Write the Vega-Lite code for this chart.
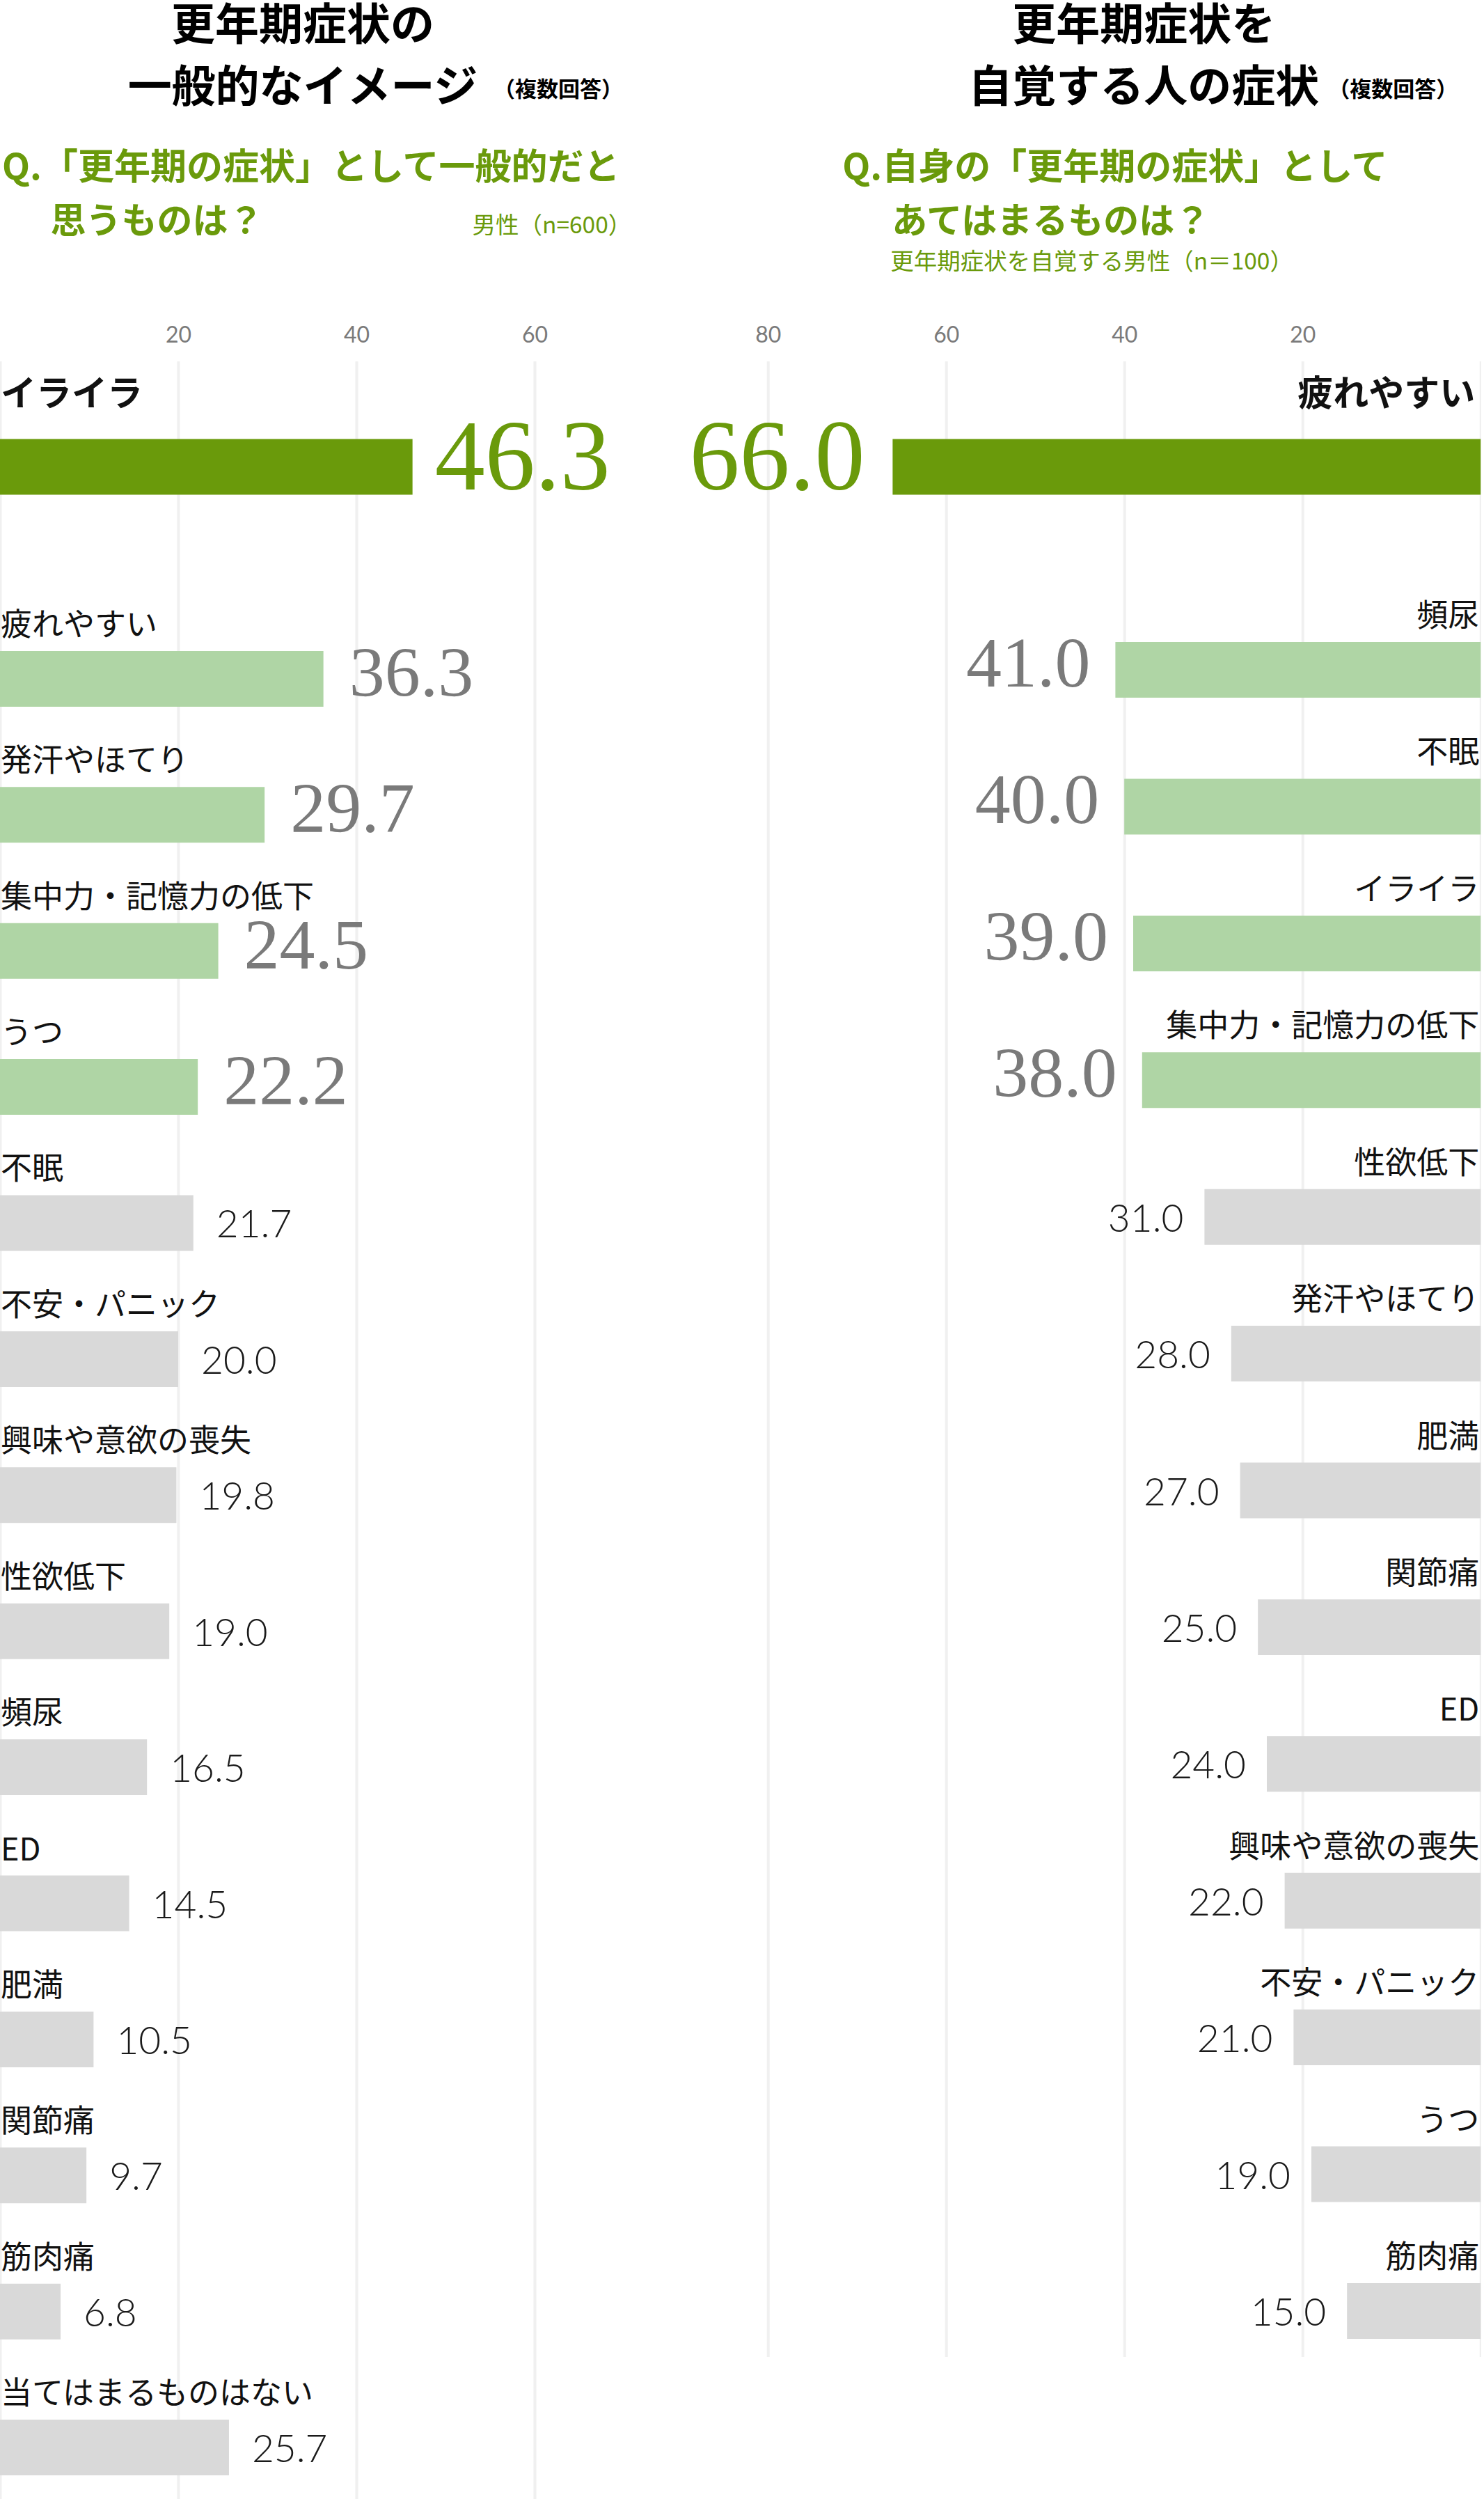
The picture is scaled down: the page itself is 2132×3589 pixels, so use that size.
{
  "$schema": "https://vega.github.io/schema/vega-lite/v6.json",
  "background": "white",
  "padding": {"left": 0, "top": 6.5, "right": 0, "bottom": 0},
  "datasets": {
    "general": [
      {"symptom": "イライラ", "pct": 46.3, "tier": "top"},
      {"symptom": "疲れやすい", "pct": 36.3, "tier": "high"},
      {"symptom": "発汗やほてり", "pct": 29.7, "tier": "high"},
      {"symptom": "集中力・記憶力の低下", "pct": 24.5, "tier": "high"},
      {"symptom": "うつ", "pct": 22.2, "tier": "high"},
      {"symptom": "不眠", "pct": 21.7, "tier": "other"},
      {"symptom": "不安・パニック", "pct": 20.0, "tier": "other"},
      {"symptom": "興味や意欲の喪失", "pct": 19.8, "tier": "other"},
      {"symptom": "性欲低下", "pct": 19.0, "tier": "other"},
      {"symptom": "頻尿", "pct": 16.5, "tier": "other"},
      {"symptom": "ED", "pct": 14.5, "tier": "other"},
      {"symptom": "肥満", "pct": 10.5, "tier": "other"},
      {"symptom": "関節痛", "pct": 9.7, "tier": "other"},
      {"symptom": "筋肉痛", "pct": 6.8, "tier": "other"},
      {"symptom": "当てはまるものはない", "pct": 25.7, "tier": "other"}
    ],
    "self": [
      {"symptom": "疲れやすい", "pct": 66.0, "tier": "top"},
      {"symptom": "頻尿", "pct": 41.0, "tier": "high"},
      {"symptom": "不眠", "pct": 40.0, "tier": "high"},
      {"symptom": "イライラ", "pct": 39.0, "tier": "high"},
      {"symptom": "集中力・記憶力の低下", "pct": 38.0, "tier": "high"},
      {"symptom": "性欲低下", "pct": 31.0, "tier": "other"},
      {"symptom": "発汗やほてり", "pct": 28.0, "tier": "other"},
      {"symptom": "肥満", "pct": 27.0, "tier": "other"},
      {"symptom": "関節痛", "pct": 25.0, "tier": "other"},
      {"symptom": "ED", "pct": 24.0, "tier": "other"},
      {"symptom": "興味や意欲の喪失", "pct": 22.0, "tier": "other"},
      {"symptom": "不安・パニック", "pct": 21.0, "tier": "other"},
      {"symptom": "うつ", "pct": 19.0, "tier": "other"},
      {"symptom": "筋肉痛", "pct": 15.0, "tier": "other"}
    ]
  },
  "spacing": -33.8,
  "hconcat": [
    {
      "title": {"text": ["更年期症状の", "一般的なイメージ"], "orient": "top", "anchor": "start", "frame": "group", "align": "center", "baseline": "top", "dx": 435, "offset": -45.2, "font": "Noto Sans CJK JP", "fontSize": 63, "fontWeight": "bold", "color": "#000000", "lineHeight": 88.5},
      "spacing": 0,
      "vconcat": [
        {
          "title": {"text": "（複数回答）", "orient": "top", "anchor": "start", "frame": "group", "align": "left", "baseline": "top", "dx": 709, "offset": 69.9, "font": "Noto Sans CJK JP", "fontSize": 31, "fontWeight": "bold", "color": "#000000"},
          "spacing": 0,
          "vconcat": [
            {
              "title": {"text": "Q.「更年期の症状」として一般的だと", "orient": "top", "anchor": "start", "frame": "group", "align": "left", "baseline": "top", "dx": 3, "offset": 25.5, "font": "Noto Sans CJK JP", "fontSize": 52, "fontWeight": "bold", "color": "#6a9a0b"},
              "spacing": 0,
              "vconcat": [
                {
                  "title": {"text": "思うものは？", "orient": "top", "anchor": "start", "frame": "group", "align": "left", "baseline": "top", "dx": 72.5, "offset": -38.5, "font": "Noto Sans CJK JP", "fontSize": 51, "fontWeight": "bold", "color": "#6a9a0b"},
                  "spacing": 0,
                  "vconcat": [
                    {
                      "title": {"text": "男性（n=600）", "orient": "top", "anchor": "start", "frame": "group", "align": "left", "baseline": "top", "dx": 678.5, "offset": 123.4, "font": "Noto Sans CJK JP", "fontSize": 33.5, "fontWeight": "normal", "color": "#6a9a0b"},
                      "bounds": "flush",
                      "spacing": 0,
                      "vconcat": [
                        {
                          "width": 1024,
                          "height": 382,
                          "data": {"name": "general"},
                          "transform": [{"filter": "datum.tier === 'top'"}],
                          "encoding": {
                            "y": {"field": "symptom", "type": "nominal", "axis": null, "scale": {"domain": ["イライラ"], "paddingInner": 0, "paddingOuter": 1, "align": 0.3469, "round": false}}
                          },
                          "layer": [
                            {"mark": {"type": "bar", "height": 80, "color": "#6a9a0b"},
                             "encoding": {"x": {"field": "pct", "type": "quantitative", "scale": {"domain": [0, 80], "nice": false}, "axis": {"orient": "top", "values": [0, 20, 40, 60], "labelExpr": "datum.value === 0 ? '' : datum.label", "title": null, "grid": true}}}},
                            {"mark": {"type": "text", "align": "left", "baseline": "alphabetic", "dx": 1, "dy": -88, "font": "Noto Sans CJK JP", "fontSize": 51, "fontWeight": "bold", "color": "#111111"},
                             "encoding": {"x": {"datum": 0, "type": "quantitative", "axis": {"orient": "top", "values": [0, 20, 40, 60], "labelExpr": "datum.value === 0 ? '' : datum.label", "title": null, "grid": true}}, "text": {"field": "symptom", "type": "nominal"}}},
                            {"mark": {"type": "text", "align": "left", "baseline": "alphabetic", "dx": 32, "dy": 32, "font": "Liberation Serif", "fontSize": 144, "color": "#6a9a0b"},
                             "encoding": {"x": {"field": "pct", "type": "quantitative", "axis": {"orient": "top", "values": [0, 20, 40, 60], "labelExpr": "datum.value === 0 ? '' : datum.label", "title": null, "grid": true}}, "text": {"field": "pct", "type": "quantitative", "format": ".1f"}}}
                          ]
                        },
                        {
                          "width": 1024,
                          "height": 2689,
                          "data": {"name": "general"},
                          "transform": [{"filter": "datum.tier !== 'top'"}],
                          "encoding": {
                            "y": {"field": "symptom", "type": "nominal", "axis": null, "scale": {"domain": ["疲れやすい", "発汗やほてり", "集中力・記憶力の低下", "うつ", "不眠", "不安・パニック", "興味や意欲の喪失", "性欲低下", "頻尿", "ED", "肥満", "関節痛", "筋肉痛", "当てはまるものはない"], "paddingInner": 0.2385, "paddingOuter": 0, "align": 0.5, "round": false}}
                          },
                          "layer": [
                            {"mark": {"type": "bar", "height": 80},
                             "encoding": {"x": {"field": "pct", "type": "quantitative", "scale": {"domain": [0, 80], "nice": false}, "axis": {"orient": "top", "values": [0, 20, 40, 60], "labels": false, "title": null, "grid": true}},
                                          "color": {"field": "tier", "type": "nominal", "scale": {"domain": ["high", "other"], "range": ["#afd5a5", "#d9d9d9"]}, "legend": null}}},
                            {"mark": {"type": "text", "align": "left", "baseline": "alphabetic", "dx": 1, "dy": -62, "font": "Noto Sans CJK JP", "fontSize": 45, "color": "#111111"},
                             "encoding": {"x": {"datum": 0, "type": "quantitative", "axis": {"orient": "top", "values": [0, 20, 40, 60], "labels": false, "title": null, "grid": true}}, "text": {"field": "symptom", "type": "nominal"}}},
                            {"transform": [{"filter": "datum.tier === 'high'"}],
                             "mark": {"type": "text", "align": "left", "baseline": "alphabetic", "dx": 37, "dy": 25, "font": "Liberation Serif", "fontSize": 102, "color": "#7a7a7a"},
                             "encoding": {"x": {"field": "pct", "type": "quantitative", "axis": {"orient": "top", "values": [0, 20, 40, 60], "labels": false, "title": null, "grid": true}}, "text": {"field": "pct", "type": "quantitative", "format": ".1f"}}},
                            {"transform": [{"filter": "datum.tier === 'other'"}],
                             "mark": {"type": "text", "align": "left", "baseline": "alphabetic", "dx": 33, "dy": 21, "font": "Lato", "fontWeight": 300, "fontSize": 55, "color": "#1a1a1a"},
                             "encoding": {"x": {"field": "pct", "type": "quantitative", "axis": {"orient": "top", "values": [0, 20, 40, 60], "labels": false, "title": null, "grid": true}}, "text": {"field": "pct", "type": "quantitative", "format": ".1f"}}}
                          ]
                        }
                      ]
                    }
                  ]
                }
              ]
            }
          ]
        }
      ]
    },
    {
      "title": {"text": ["更年期症状を", "自覚する人の症状"], "orient": "top", "anchor": "start", "frame": "group", "align": "center", "baseline": "top", "dx": 540, "offset": -45.2, "font": "Noto Sans CJK JP", "fontSize": 63, "fontWeight": "bold", "color": "#000000", "lineHeight": 88.5},
      "spacing": 0,
      "vconcat": [
        {
          "title": {"text": "（複数回答）", "orient": "top", "anchor": "start", "frame": "group", "align": "left", "baseline": "top", "dx": 805, "offset": 69.9, "font": "Noto Sans CJK JP", "fontSize": 31, "fontWeight": "bold", "color": "#000000"},
          "spacing": 0,
          "vconcat": [
            {
              "title": {"text": "Q.自身の「更年期の症状」として", "orient": "top", "anchor": "start", "frame": "group", "align": "left", "baseline": "top", "dx": 107, "offset": 25.5, "font": "Noto Sans CJK JP", "fontSize": 52, "fontWeight": "bold", "color": "#6a9a0b"},
              "spacing": 0,
              "vconcat": [
                {
                  "title": {"text": "あてはまるものは？", "orient": "top", "anchor": "start", "frame": "group", "align": "left", "baseline": "top", "dx": 178, "offset": 14.0, "font": "Noto Sans CJK JP", "fontSize": 51, "fontWeight": "bold", "color": "#6a9a0b"},
                  "spacing": 0,
                  "vconcat": [
                    {
                      "title": {"text": "更年期症状を自覚する男性（n＝100）", "orient": "top", "anchor": "start", "frame": "group", "align": "left", "baseline": "top", "dx": 176, "offset": 70.9, "font": "Noto Sans CJK JP", "fontSize": 33.5, "fontWeight": "normal", "color": "#6a9a0b"},
                      "bounds": "flush",
                      "spacing": 0,
                      "vconcat": [
                        {
                          "width": 1024,
                          "height": 378,
                          "data": {"name": "self"},
                          "transform": [{"filter": "datum.tier === 'top'"}],
                          "encoding": {
                            "y": {"field": "symptom", "type": "nominal", "axis": null, "scale": {"domain": ["疲れやすい"], "paddingInner": 0, "paddingOuter": 1, "align": 0.3532, "round": false}}
                          },
                          "layer": [
                            {"mark": {"type": "bar", "height": 80, "color": "#6a9a0b"},
                             "encoding": {"x": {"field": "pct", "type": "quantitative", "scale": {"domain": [0, 80], "nice": false, "reverse": true}, "axis": {"orient": "top", "values": [0, 20, 40, 60, 80], "labelExpr": "datum.value === 0 ? '' : datum.label", "title": null, "grid": true}}}},
                            {"mark": {"type": "text", "align": "right", "baseline": "alphabetic", "dx": -8, "dy": -88, "font": "Noto Sans CJK JP", "fontSize": 51, "fontWeight": "bold", "color": "#111111"},
                             "encoding": {"x": {"datum": 0, "type": "quantitative", "axis": {"orient": "top", "values": [0, 20, 40, 60, 80], "labelExpr": "datum.value === 0 ? '' : datum.label", "title": null, "grid": true}}, "text": {"field": "symptom", "type": "nominal"}}},
                            {"mark": {"type": "text", "align": "right", "baseline": "alphabetic", "dx": -40, "dy": 32, "font": "Liberation Serif", "fontSize": 144, "color": "#6a9a0b"},
                             "encoding": {"x": {"field": "pct", "type": "quantitative", "axis": {"orient": "top", "values": [0, 20, 40, 60, 80], "labelExpr": "datum.value === 0 ? '' : datum.label", "title": null, "grid": true}}, "text": {"field": "pct", "type": "quantitative", "format": ".1f"}}}
                          ]
                        },
                        {
                          "width": 1024,
                          "height": 2488,
                          "data": {"name": "self"},
                          "transform": [{"filter": "datum.tier !== 'top'"}],
                          "encoding": {
                            "y": {"field": "symptom", "type": "nominal", "axis": null, "scale": {"domain": ["頻尿", "不眠", "イライラ", "集中力・記憶力の低下", "性欲低下", "発汗やほてり", "肥満", "関節痛", "ED", "興味や意欲の喪失", "不安・パニック", "うつ", "筋肉痛"], "paddingInner": 0.332, "paddingOuter": 0, "align": 0.5, "round": false}}
                          },
                          "layer": [
                            {"mark": {"type": "bar", "height": 80},
                             "encoding": {"x": {"field": "pct", "type": "quantitative", "scale": {"domain": [0, 80], "nice": false, "reverse": true}, "axis": {"orient": "top", "values": [0, 20, 40, 60, 80], "labels": false, "title": null, "grid": true}},
                                          "color": {"field": "tier", "type": "nominal", "scale": {"domain": ["high", "other"], "range": ["#afd5a5", "#d9d9d9"]}, "legend": null}}},
                            {"mark": {"type": "text", "align": "right", "baseline": "alphabetic", "dx": -2, "dy": -62, "font": "Noto Sans CJK JP", "fontSize": 45, "color": "#111111"},
                             "encoding": {"x": {"datum": 0, "type": "quantitative", "axis": {"orient": "top", "values": [0, 20, 40, 60, 80], "labels": false, "title": null, "grid": true}}, "text": {"field": "symptom", "type": "nominal"}}},
                            {"transform": [{"filter": "datum.tier === 'high'"}],
                             "mark": {"type": "text", "align": "right", "baseline": "alphabetic", "dx": -36, "dy": 24, "font": "Liberation Serif", "fontSize": 102, "color": "#7a7a7a"},
                             "encoding": {"x": {"field": "pct", "type": "quantitative", "axis": {"orient": "top", "values": [0, 20, 40, 60, 80], "labels": false, "title": null, "grid": true}}, "text": {"field": "pct", "type": "quantitative", "format": ".1f"}}},
                            {"transform": [{"filter": "datum.tier === 'other'"}],
                             "mark": {"type": "text", "align": "right", "baseline": "alphabetic", "dx": -30, "dy": 21, "font": "Lato", "fontWeight": 300, "fontSize": 55, "color": "#1a1a1a"},
                             "encoding": {"x": {"field": "pct", "type": "quantitative", "axis": {"orient": "top", "values": [0, 20, 40, 60, 80], "labels": false, "title": null, "grid": true}}, "text": {"field": "pct", "type": "quantitative", "format": ".1f"}}}
                          ]
                        }
                      ]
                    }
                  ]
                }
              ]
            }
          ]
        }
      ]
    }
  ],
  "config": {
    "view": {"stroke": null},
    "axis": {"gridColor": "#f0f0f0", "gridWidth": 4, "ticks": false, "tickSize": 0, "domain": false, "labelFont": "Lato", "labelFontSize": 32, "labelColor": "#7a7a7a", "labelPadding": 20, "labelFlush": false, "labelOverlap": false}
  }
}
